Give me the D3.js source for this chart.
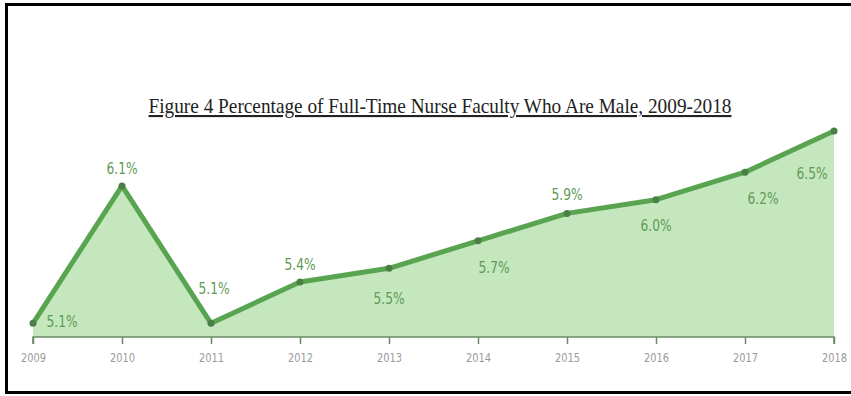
<!DOCTYPE html>
<html>
<head>
<meta charset="utf-8">
<script src="https://cdn.jsdelivr.net/npm/d3@7"></script>
<style>
  body { margin: 0; background: #fff; }
</style>
</head>
<body>
<svg id="chart"></svg>
<script>
// data
const years = [2009, 2010, 2011, 2012, 2013, 2014, 2015, 2016, 2017, 2018];
const values = [5.1, 6.1, 5.1, 5.4, 5.5, 5.7, 5.9, 6.0, 6.2, 6.5];
const labels = ["5.1%", "6.1%", "5.1%", "5.4%", "5.5%", "5.7%", "5.9%", "6.0%", "6.2%", "6.5%"];

// label offsets from each point (dx, dy to baseline centre)
const labelDx = [29, 0, 3, 0, 0, 16, 0, 0, 18, -22];
const labelDy = [4, -12, -29, -12, 36, 32, -13, 31, 32, 48];

const width = 851;
const height = 396;

const svg = d3.select("#chart")
    .attr("width", width)
    .attr("height", height);

// frame
svg.append("path")
    .attr("d", `M851,4.5 H6.5 V392.5 H851`)
    .attr("fill", "none")
    .attr("stroke", "#000")
    .attr("stroke-width", 3);

// title
svg.append("text")
    .attr("x", 440)
    .attr("y", 113)
    .attr("text-anchor", "middle")
    .attr("font-family", "Liberation Serif, serif")
    .attr("font-size", 21)
    .attr("fill", "#222")
    .attr("textLength", 583)
    .attr("lengthAdjust", "spacingAndGlyphs")
    .attr("text-decoration", "underline")
    .text("Figure 4 Percentage of Full-Time Nurse Faculty Who Are Male, 2009-2018");

const x = d3.scalePoint()
    .domain(years)
    .range([33, 834]);

const y = d3.scaleLinear()
    .domain([5.0, 6.5])
    .range([337, 131]);

const data = years.map((yr, i) => ({ year: yr, value: values[i], label: labels[i], i: i }));

// area
const area = d3.area()
    .x(d => x(d.year))
    .y0(y(5.0))
    .y1(d => y(d.value));

svg.append("path")
    .datum(data)
    .attr("d", area)
    .attr("fill", "#c5e7bd");

// axis
const xAxis = d3.axisBottom(x)
    .tickSize(7)
    .tickPadding(9);

const axisG = svg.append("g")
    .attr("transform", `translate(0, ${y(5.0)})`)
    .call(xAxis);

axisG.select(".domain")
    .attr("stroke", "#6a8a66")
    .attr("stroke-width", 1.5)
    .attr("d", `M${x(2009)},7V0H${x(2018)}V7`);
axisG.selectAll(".tick line")
    .attr("stroke", "#6a8a66")
    .attr("stroke-width", 1.5);
axisG.selectAll(".tick text")
    .attr("fill", "#9a9a9a")
    .attr("font-family", "DejaVu Sans Condensed, sans-serif")
    .attr("font-size", 12)
    .attr("textLength", 25)
    .attr("lengthAdjust", "spacingAndGlyphs");

// line
const line = d3.line()
    .x(d => x(d.year))
    .y(d => y(d.value));

svg.append("path")
    .datum(data)
    .attr("d", line)
    .attr("fill", "none")
    .attr("stroke", "#58a450")
    .attr("stroke-width", 5)
    .attr("stroke-linejoin", "round");

// points
svg.selectAll(".dot")
    .data(data)
    .enter()
    .append("circle")
    .attr("class", "dot")
    .attr("cx", d => x(d.year))
    .attr("cy", d => y(d.value))
    .attr("r", 3.5)
    .attr("fill", "#4a7f46");

// value labels
svg.selectAll(".val")
    .data(data)
    .enter()
    .append("text")
    .attr("class", "val")
    .attr("x", d => x(d.year) + labelDx[d.i])
    .attr("y", d => y(d.value) + labelDy[d.i])
    .attr("text-anchor", "middle")
    .attr("font-family", "DejaVu Sans Condensed, sans-serif")
    .attr("font-size", 15)
    .attr("fill", "#5f9a58")
    .attr("textLength", 31)
    .attr("lengthAdjust", "spacingAndGlyphs")
    .text(d => d.label);
</script>
</body>
</html>
